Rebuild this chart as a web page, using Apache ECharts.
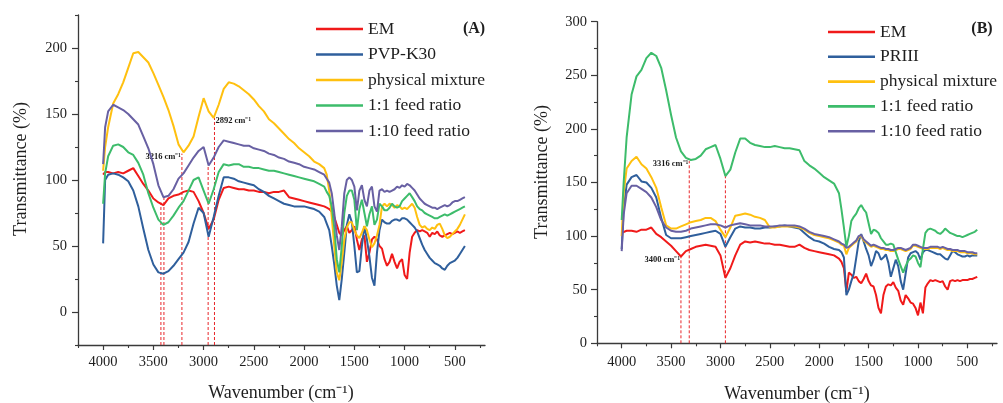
<!DOCTYPE html>
<html>
<head>
<meta charset="utf-8">
<script src="https://cdn.jsdelivr.net/npm/echarts@6.0.0/dist/echarts.min.js"></script>
<style>
  html, body { margin: 0; padding: 0; background: #ffffff; }
  #chart { width: 1003px; height: 403px; }
</style>
</head>
<body>
<div id="chart"></div>
<script>
// Wavenumber grid (cm-1) shared by both spectra panels
const wavenumbers = [
  4000, 3980, 3950, 3900, 3850, 3800, 3750, 3700, 3650, 3600,
  3550, 3500, 3450, 3400, 3350, 3300, 3250, 3200, 3150, 3100,
  3050, 3000, 2950, 2900, 2850, 2800, 2750, 2700, 2650, 2600,
  2550, 2500, 2450, 2400, 2350, 2300, 2250, 2200, 2150, 2100,
  2050, 2000, 1950, 1900, 1850, 1800,
  1775, 1750, 1725, 1700, 1675, 1650, 1625, 1600,
  1575, 1550, 1525, 1500, 1475, 1450, 1425, 1400,
  1375, 1350, 1325, 1300, 1275, 1250, 1225, 1200,
  1175, 1150, 1125, 1100, 1075, 1050, 1025, 1000,
  975, 950, 925, 900, 875, 850, 825, 800,
  775, 750, 725, 700, 675, 650, 625, 600,
  575, 550, 525, 500, 475, 450, 425, 400
];

// Panel (A): transmittance (%)
const emA = [
  104, 106, 106, 105, 106, 105, 107, 109, 103, 97,
  92, 86, 83, 81, 86, 88, 89, 91, 92, 91,
  84, 75, 63, 70, 85, 94, 95, 94, 93, 93,
  92, 92, 91, 91, 90, 91, 91, 92, 87, 86,
  85, 84, 83, 82, 81, 80,
  79, 78, 76, 72, 66, 60, 58, 62,
  65, 60, 62, 65, 55, 47, 55, 58,
  38, 45, 55, 57, 55, 50, 48, 40,
  35, 38, 44, 38, 33, 38, 40, 28,
  25, 45, 57, 60, 62, 61, 62, 61,
  60, 57, 60, 59, 61, 58, 57, 58,
  59, 60, 59, 60, 61, 60, 61, 62
];
const pvpA = [
  52, 100, 104, 105, 104, 102, 99, 92, 80, 63,
  47, 36, 30, 29, 31, 35, 40, 45, 53, 67,
  79, 75, 57, 72, 88, 102, 102, 101, 99, 98,
  97, 96, 93, 91, 88, 86, 84, 82, 81, 80,
  80, 80, 79, 78, 76, 72,
  67, 62, 50, 36, 20, 9, 25, 45,
  66, 74, 68, 50, 30, 31, 50, 65,
  55, 42, 26, 20, 45, 62, 70, 68,
  67, 67, 69, 70, 70, 69, 71, 71,
  70, 68, 66, 64, 61, 56, 51, 47,
  44, 41, 39, 37, 36, 35, 33, 32,
  35, 37, 38, 39, 41, 44, 47, 50
];
const physA = [
  107, 125, 140, 158, 165, 174, 185, 196, 197, 193,
  189, 181, 172, 163, 153, 141, 127, 121, 126, 133,
  148, 162, 152, 147, 157, 169, 174, 173, 171, 168,
  165, 161, 156, 152, 146, 143, 139, 135, 131, 128,
  124, 121, 118, 114, 112, 109,
  104, 92, 72, 50, 30, 24, 38, 55,
  64, 68, 68, 62, 58, 56, 60, 65,
  62, 55, 49, 52, 58, 66, 80, 82,
  80, 82, 81, 79, 81, 80, 78, 79,
  78, 80, 82, 79, 72, 66, 64, 65,
  63, 62, 64, 63, 66, 67, 63, 58,
  56, 57, 59, 61, 63, 66, 70, 74
];
const feed11A = [
  82, 105, 118, 126, 127, 125, 121, 119, 113, 104,
  90, 79, 70, 66, 68, 73, 79, 84, 92, 100,
  102, 92, 82, 93, 106, 112, 111, 112, 112, 110,
  110, 109, 109, 108, 107, 107, 106, 105, 104, 103,
  102, 101, 100, 99, 97, 95,
  91, 88, 80, 64, 40, 30, 50, 75,
  88, 92, 92, 85, 62, 78, 85, 75,
  65, 74, 80, 66, 70, 82, 80, 77,
  77, 79, 82, 80, 79, 80, 84, 86,
  88, 90, 87, 84, 80, 78, 77, 75,
  74, 73, 72, 71, 71, 72, 73, 74,
  73, 74, 75, 76, 77, 78, 79, 80
];
const feed110A = [
  112, 140, 152, 157, 155, 153, 150, 146, 142, 133,
  124, 112, 96, 87, 88, 93, 101, 105, 111, 117,
  122, 125, 111, 117, 125, 130, 129, 128, 127, 126,
  126, 124, 123, 122, 120, 119, 117, 116, 114, 113,
  112, 110, 109, 108, 106, 104,
  101, 98, 90, 75, 58, 47, 65, 90,
  100, 102, 100, 95, 77, 92, 96, 85,
  80, 92, 95, 80, 76, 92, 93, 91,
  92, 91, 92, 93, 95, 94, 96, 95,
  97, 96, 94, 92, 89, 86, 84, 82,
  81, 80, 79, 79, 78, 79, 80, 81,
  80, 81, 83, 84, 84, 85, 86, 87
];

// Panel (B): transmittance (%)
const emB = [
  103, 104, 105, 105, 104, 106, 106, 108, 102, 99,
  95, 91, 86, 81, 86, 88, 90, 91, 92, 91,
  90, 82, 61, 70, 82, 92, 95, 94, 95, 94,
  93, 93, 92, 92, 91, 90, 90, 92, 89, 87,
  86, 85, 84, 83, 82, 79,
  76, 70, 48, 66, 64, 61, 62, 58,
  56, 60, 65, 58, 54, 53, 45, 33,
  28, 45, 53, 55, 54, 57, 52, 49,
  40, 36, 45, 42, 38, 37, 33, 26,
  38, 28, 52, 56, 59, 58, 59, 58,
  57, 58, 53, 50, 58, 59, 58, 59,
  58, 59, 59, 59, 60, 60, 61, 62
];
const priiiB = [
  88, 125, 148, 155, 157, 151, 150, 145, 136, 117,
  101, 98, 98, 98, 99, 100, 101, 102, 103, 104,
  105, 102, 90, 99, 107, 109, 108, 108, 107, 107,
  108, 108, 109, 109, 110, 109, 108, 107, 103, 99,
  96, 95, 93, 90, 88, 87,
  85, 80, 45, 50, 58, 65, 80, 95,
  102, 95, 88, 82, 72, 78, 86, 84,
  78, 80, 83, 75, 62, 70, 78, 72,
  58, 50, 65, 80, 84, 85, 86, 84,
  78, 85, 87, 87, 86, 85, 84, 83,
  83, 81, 79, 78, 82, 86, 85, 83,
  82, 81, 81, 82, 81, 82, 82, 82
];
const physB = [
  100, 140, 163, 170, 174, 167, 163, 155, 145, 127,
  110, 107, 107, 109, 111, 113, 114, 115, 117, 117,
  114, 106, 99, 108, 119, 120, 121, 120, 118, 117,
  115, 108, 108, 109, 109, 109, 109, 108, 106, 103,
  101, 100, 99, 98, 96, 94,
  92, 91, 83, 89, 91, 93, 95, 99,
  100, 96, 94, 92, 90, 91, 90, 89,
  88, 88, 87, 87, 86, 86, 87, 88,
  88, 87, 86, 87, 88, 91, 91, 90,
  89, 88, 88, 88, 89, 89, 89, 89,
  88, 89, 88, 87, 87, 86, 86, 86,
  85, 85, 85, 84, 84, 84, 83, 83
];
const feed11B = [
  115, 150, 192, 232, 249, 255, 266, 271, 268, 257,
  236, 213, 192, 179, 173, 171, 172, 175, 181, 183,
  185, 172, 156, 162, 178, 191, 191, 187, 185, 184,
  183, 183, 184, 183, 182, 182, 181, 180, 170, 166,
  163, 159, 155, 152, 149, 140,
  125, 108, 90, 100, 114, 118, 121, 126,
  129, 125, 122, 112, 102, 106, 105, 103,
  98, 95, 92, 92, 93, 92, 85, 78,
  72, 66, 72, 77, 79, 82, 81, 75,
  71, 88, 103, 106, 107, 106, 105, 103,
  102, 104, 107, 105, 103, 102, 101, 100,
  100, 99, 100, 101, 102, 103, 104, 106
];
const feed110B = [
  86, 120, 140, 147, 147, 144, 141, 136, 127, 115,
  108, 105, 104, 104, 105, 107, 108, 109, 110, 111,
  111, 110, 108, 110, 111, 112, 111, 110, 110, 110,
  109, 109, 109, 110, 110, 110, 110, 109, 107, 104,
  102, 101, 100, 99, 97, 95,
  93, 92, 89, 90, 92, 94, 96, 100,
  101, 97, 95, 93, 91, 92, 91, 90,
  89, 89, 88, 88, 87, 87, 88, 89,
  89, 88, 87, 88, 89, 92, 92, 91,
  90, 89, 89, 89, 90, 90, 90, 90,
  89, 90, 89, 88, 88, 87, 87, 87,
  86, 86, 86, 85, 85, 85, 84, 84
];

// Marked band positions (cm-1) and the transmittance where each guide line ends
const guideWaveA = [3425, 3395, 3216, 2955, 2892];
const guideTopA = [83, 87, 120, 111, 147];
const guideTextA = ['', '', '3216 cm⁻¹', '', '2892 cm⁻¹'];
const guideSideA = ['left', 'left', 'left', 'left', 'right'];

const guideWaveB = [3400, 3316, 2950];
const guideTopB = [81, 170, 156];
const guideTextB = ['3400 cm⁻¹', '3316 cm⁻¹', ''];
const guideSideB = ['left', 'left', 'left'];

// Tick positions
const xMajorTicks = [4000, 3500, 3000, 2500, 2000, 1500, 1000, 500];
const xMinorTicks = [4250, 3750, 3250, 2750, 2250, 1750, 1250, 750, 250];
const yMajorA = [0, 50, 100, 150, 200];
const yMinorA = [-25, 25, 75, 125, 175, 225];
const yMajorB = [0, 50, 100, 150, 200, 250, 300];
const yMinorB = [25, 75, 125, 175, 225, 275];

const legendA = ['EM', 'PVP-K30', 'physical mixture', '1:1 feed ratio', '1:10 feed ratio'];
const legendB = ['EM', 'PRIII', 'physical mixture', '1:1 feed ratio', '1:10 feed ratio'];

const COLORS = {
  em: '#f01a1a',
  polymer: '#2f5f9c',
  phys: '#ffc00f',
  f11: '#3dbc6b',
  f110: '#6860a3'
};
const SERIF = '"Liberation Serif", "Times New Roman", serif';
const AXIS_COLOR = '#3a3a3a';
const TEXT_COLOR = '#1e1e1e';

const chart = echarts.init(document.getElementById('chart'), null, { renderer: 'canvas' });

// Plain numbers on the ticks (no thousands separator)
const plainNumber = (v) => String(v);

function xAxesFor(gridIndex, labelMargin) {
  return [
    {
      type: 'value', gridIndex, min: 200, max: 4250, inverse: true, position: 'bottom',
      axisLine: { show: true, onZero: false, lineStyle: { color: AXIS_COLOR, width: 1.3 } },
      axisTick: { show: true, customValues: xMajorTicks, length: 5, lineStyle: { color: AXIS_COLOR, width: 1.2 } },
      axisLabel: { show: true, customValues: xMajorTicks, formatter: plainNumber, margin: labelMargin, fontFamily: SERIF, fontSize: 14.5, color: TEXT_COLOR },
      splitLine: { show: false }
    },
    {
      type: 'value', gridIndex, min: 200, max: 4250, inverse: true, position: 'bottom',
      axisLine: { show: false, onZero: false },
      axisTick: { show: true, customValues: xMinorTicks, length: 3, lineStyle: { color: AXIS_COLOR, width: 1.1 } },
      axisLabel: { show: false },
      splitLine: { show: false }
    }
  ];
}

function yAxesFor(gridIndex, min, max, major, minor, labelMargin) {
  return [
    {
      type: 'value', gridIndex, min, max, position: 'left',
      axisLine: { show: true, onZero: false, lineStyle: { color: AXIS_COLOR, width: 1.3 } },
      axisTick: { show: true, customValues: major, length: 6, lineStyle: { color: AXIS_COLOR, width: 1.2 } },
      axisLabel: { show: true, customValues: major, formatter: plainNumber, margin: labelMargin, fontFamily: SERIF, fontSize: 14.5, color: TEXT_COLOR },
      splitLine: { show: false }
    },
    {
      type: 'value', gridIndex, min, max, position: 'left',
      axisLine: { show: false, onZero: false },
      axisTick: { show: true, customValues: minor, length: 3, lineStyle: { color: AXIS_COLOR, width: 1.1 } },
      axisLabel: { show: false },
      splitLine: { show: false }
    }
  ];
}

function curve(name, values, color, axisIndex) {
  return {
    type: 'line', name,
    xAxisIndex: axisIndex, yAxisIndex: axisIndex,
    data: wavenumbers.map((w, i) => [w, values[i]]),
    symbol: 'none', showSymbol: false, silent: true,
    color: color,
    itemStyle: { color: color },
    lineStyle: { color: color, width: 2 },
    z: 3
  };
}

function guides(waves, tops, base, texts, sides, axisIndex) {
  return waves.map((w, i) => ({
    type: 'line',
    xAxisIndex: axisIndex, yAxisIndex: axisIndex,
    silent: true,
    symbol: 'circle', symbolSize: 0.01, showSymbol: true,
    itemStyle: { color: '#e8262a' },
    lineStyle: { color: '#e8262a', width: 1, type: [3, 2] },
    z: 2,
    data: [
      [w, base],
      {
        value: [w, tops[i]],
        label: {
          show: texts[i] !== '',
          formatter: texts[i],
          position: sides[i],
          distance: 1,
          offset: [0, 3],
          fontFamily: SERIF,
          fontSize: 8.5,
          fontWeight: 'bold',
          color: '#1a1a1a'
        }
      }
    ]
  }));
}

function legendFor(names, left, top, gap) {
  return {
    data: names,
    orient: 'vertical',
    left: left, top: top,
    padding: 0,
    itemWidth: 47, itemHeight: 2.6, itemGap: gap,
    icon: 'rect',
    selectedMode: false,
    textStyle: { fontFamily: SERIF, fontSize: 17.5, color: TEXT_COLOR, lineHeight: 18 }
  };
}

const option = {
  animation: false,
  backgroundColor: '#ffffff',
  textStyle: { fontFamily: SERIF },
  grid: [
    { left: 78, right: 518, top: 15, bottom: 58 },
    { left: 597, right: 6, top: 21.7, bottom: 59.7 }
  ],
  xAxis: [].concat(xAxesFor(0, 10), xAxesFor(1, 11)),
  yAxis: [].concat(
    yAxesFor(0, -25, 225, yMajorA, yMinorA, 11),
    yAxesFor(1, 0, 300, yMajorB, yMinorB, 10)
  ),
  legend: [
    legendFor(legendA, 316, 20, 7.5),
    legendFor(legendB, 828, 23, 6.8)
  ],
  graphic: [
    { type: 'text', x: 21, y: 169, rotation: Math.PI / 2,
      style: { text: 'Transmittance (%)', fontFamily: SERIF, fontSize: 18, fill: TEXT_COLOR, align: 'center', verticalAlign: 'middle' } },
    { type: 'text', x: 542, y: 172, rotation: Math.PI / 2,
      style: { text: 'Transmittance (%)', fontFamily: SERIF, fontSize: 18, fill: TEXT_COLOR, align: 'center', verticalAlign: 'middle' } },
    { type: 'text', x: 281, y: 393,
      style: { text: 'Wavenumber (cm⁻¹)', fontFamily: SERIF, fontSize: 18, fill: TEXT_COLOR, align: 'center', verticalAlign: 'middle' } },
    { type: 'text', x: 797, y: 394,
      style: { text: 'Wavenumber (cm⁻¹)', fontFamily: SERIF, fontSize: 18, fill: TEXT_COLOR, align: 'center', verticalAlign: 'middle' } },
    { type: 'text', x: 474, y: 29,
      style: { text: '(A)', fontFamily: SERIF, fontSize: 16, fontWeight: 'bold', fill: TEXT_COLOR, align: 'center', verticalAlign: 'middle' } },
    { type: 'text', x: 982, y: 29,
      style: { text: '(B)', fontFamily: SERIF, fontSize: 16, fontWeight: 'bold', fill: TEXT_COLOR, align: 'center', verticalAlign: 'middle' } }
  ],
  series: [].concat(
    guides(guideWaveA, guideTopA, -25, guideTextA, guideSideA, 0),
    [
      curve('EM', emA, COLORS.em, 0),
      curve('PVP-K30', pvpA, COLORS.polymer, 0),
      curve('physical mixture', physA, COLORS.phys, 0),
      curve('1:1 feed ratio', feed11A, COLORS.f11, 0),
      curve('1:10 feed ratio', feed110A, COLORS.f110, 0)
    ],
    guides(guideWaveB, guideTopB, 0, guideTextB, guideSideB, 2),
    [
      curve('EM', emB, COLORS.em, 2),
      curve('PRIII', priiiB, COLORS.polymer, 2),
      curve('physical mixture', physB, COLORS.phys, 2),
      curve('1:1 feed ratio', feed11B, COLORS.f11, 2),
      curve('1:10 feed ratio', feed110B, COLORS.f110, 2)
    ]
  )
};

chart.setOption(option);
</script>
</body>
</html>
